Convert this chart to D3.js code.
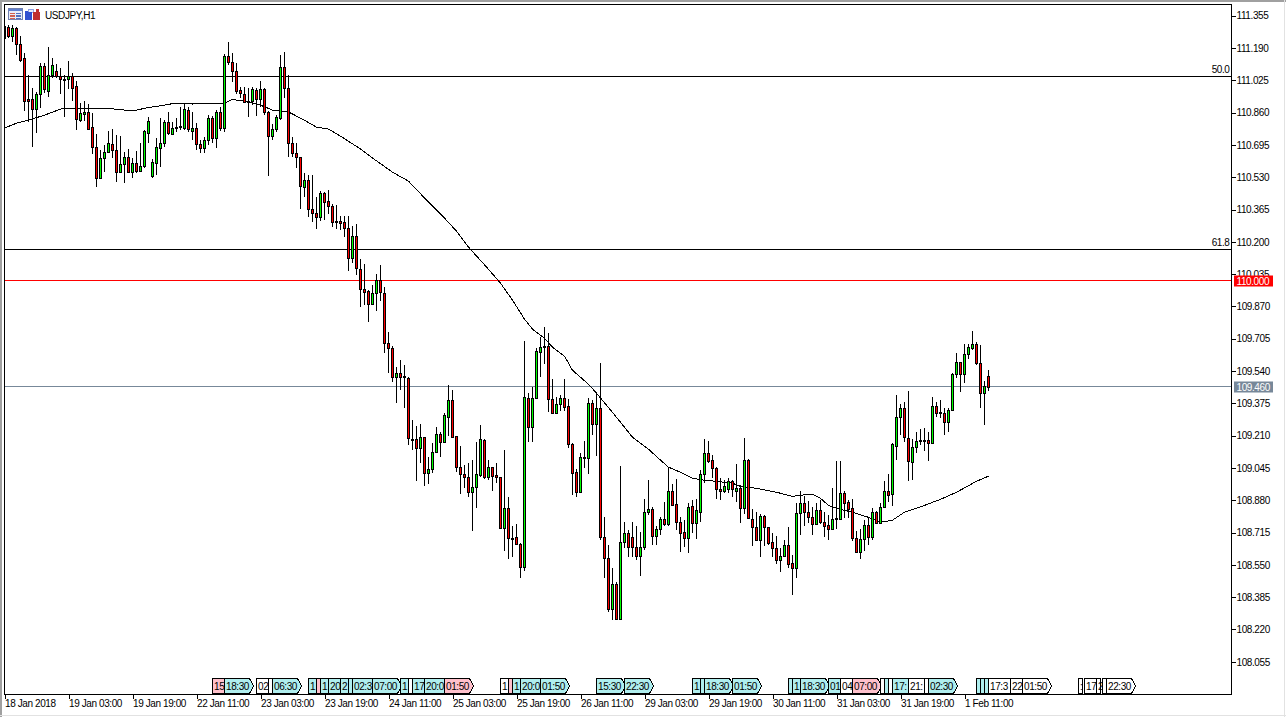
<!DOCTYPE html>
<html><head><meta charset="utf-8">
<script src="https://cdn.jsdelivr.net/npm/d3@7/dist/d3.min.js"></script>
<style>
html,body{margin:0;padding:0;background:#fff;overflow:hidden}
svg{display:block}
text{font-family:"Liberation Sans",Arial,sans-serif;font-size:10px;letter-spacing:-.4px;fill:#000}
</style></head><body><svg id="c" width="1286" height="717"></svg>
<script>
const symbolTitle="USDJPY,H1";
const direction=["R","RGRRRRRGGR","GGRRRGRRGG","RRRGGGRRGG","RGRGGGGGGG","RGGGGRGRRG","GRGRGRRRRR","RGRGRRGGGR","RRRRGRRRGR","RRRRRRGRRR","RGGRRRRGRR","RRRGRGGGRG","GRRRRRGGGR","GRRRGRRRRG","RGGGGRRGGR","RRRGGGRGRR","RGRGGRRRGG","GRGGRGRRRR","GRGGGRRRRG","GRGRGRRRGR","RRRGGRRGGR","RRGRRRGGGR","RRRGGRGRGG","RGGGRRGGRR","RGRRRGGGRG","GGRRGR"].join("").split("");
const high=[111.302,111.307,111.307,111.297,111.251,111.164,111.052,110.985,110.965,111.113,111.113,111.195,111.139,111.108,111.088,111.052,111.123,111.062,111.021,110.909,110.919,110.904,110.858,110.751,110.669,110.694,110.766,110.776,110.745,110.740,110.658,110.674,110.628,110.664,110.704,110.771,110.837,110.623,110.730,110.832,110.822,110.863,110.812,110.832,110.888,110.904,110.888,110.863,110.807,110.720,110.735,110.848,110.842,110.873,110.888,111.159,111.220,111.164,111.113,110.990,110.990,110.985,110.990,110.985,111.021,110.985,110.868,110.802,110.848,111.154,111.169,111.052,110.735,110.704,110.633,110.551,110.541,110.541,110.428,110.459,110.454,110.464,110.393,110.388,110.331,110.331,110.331,110.280,110.290,110.112,110.086,109.953,109.979,110.035,110.081,109.968,109.738,109.667,109.559,109.595,109.570,109.509,109.289,109.258,109.268,109.202,109.100,109.171,109.253,109.228,109.325,109.467,109.442,109.207,109.156,109.059,109.069,109.085,109.176,109.263,109.191,109.085,109.049,109.069,108.998,109.135,108.895,108.747,108.757,108.660,109.692,109.426,109.457,109.656,109.713,109.764,109.733,109.498,109.406,109.416,109.498,109.396,109.171,109.038,109.120,109.181,109.401,109.391,109.426,109.580,108.793,108.650,108.533,108.461,109.054,108.768,108.727,108.768,108.747,108.717,108.885,108.982,108.844,108.747,108.793,108.870,109.049,108.962,108.987,108.793,108.778,108.865,108.880,108.885,109.034,109.191,109.181,109.110,109.049,108.993,108.982,108.993,108.982,109.064,108.956,109.197,109.089,108.834,108.819,108.808,108.803,108.742,108.711,108.696,108.635,108.676,108.742,108.599,108.865,108.926,108.900,108.875,108.844,108.865,108.880,108.819,108.803,108.941,109.079,109.079,108.926,108.880,108.885,108.721,108.732,108.778,108.788,108.839,108.824,108.865,108.977,109.013,109.171,109.416,109.370,109.380,109.437,109.191,109.227,109.243,109.248,109.227,109.406,109.380,109.391,109.350,109.350,109.529,109.631,109.585,109.677,109.677,109.744,109.687,109.672,109.488,109.544];
const low=[111.231,111.241,111.220,111.154,111.118,110.868,110.812,110.684,110.756,110.883,110.960,110.939,111.037,111.037,110.955,110.837,110.980,110.919,110.771,110.812,110.817,110.776,110.648,110.479,110.520,110.556,110.653,110.628,110.505,110.551,110.500,110.556,110.525,110.551,110.556,110.577,110.704,110.525,110.541,110.582,110.684,110.745,110.745,110.760,110.771,110.771,110.760,110.720,110.669,110.653,110.653,110.694,110.704,110.679,110.766,110.760,111.103,111.016,110.955,110.935,110.909,110.837,110.898,110.842,110.888,110.848,110.536,110.720,110.760,110.822,110.935,110.633,110.633,110.577,110.367,110.428,110.326,110.300,110.265,110.305,110.310,110.341,110.275,110.265,110.260,110.224,110.050,110.091,110.030,109.866,109.876,109.789,109.876,109.846,109.897,109.631,109.529,109.483,109.376,109.442,109.350,109.161,109.135,108.977,109.069,108.951,108.962,109.018,109.120,109.100,109.171,109.207,109.197,109.023,108.911,108.941,108.895,108.721,108.839,108.998,108.987,108.982,108.926,108.967,108.737,108.619,108.578,108.588,108.650,108.481,108.517,109.176,109.176,109.396,109.509,109.575,109.329,109.319,109.319,109.335,109.335,109.146,108.905,108.895,108.916,109.044,109.013,109.212,109.105,108.675,108.481,108.307,108.271,108.302,108.271,108.635,108.588,108.588,108.573,108.492,108.624,108.803,108.650,108.650,108.701,108.747,108.747,108.854,108.727,108.614,108.640,108.609,108.711,108.680,108.768,108.967,109.069,108.993,108.885,108.880,108.916,108.916,108.895,108.870,108.762,108.808,108.783,108.645,108.670,108.588,108.645,108.650,108.588,108.553,108.512,108.588,108.533,108.395,108.481,108.701,108.747,108.762,108.701,108.752,108.757,108.691,108.676,108.737,108.732,108.778,108.788,108.788,108.670,108.614,108.578,108.619,108.650,108.676,108.757,108.757,108.839,108.870,108.849,109.085,109.212,109.176,108.977,108.982,109.120,109.161,109.130,109.079,109.171,109.304,109.299,109.212,109.227,109.335,109.503,109.432,109.478,109.600,109.646,109.570,109.350,109.263,109.437];
const bodyHigh=[111.302,111.297,111.292,111.292,111.210,111.134,110.929,110.929,110.950,111.093,111.093,111.052,111.103,111.072,111.042,111.031,111.042,111.042,110.991,110.853,110.863,110.863,110.786,110.684,110.628,110.658,110.704,110.699,110.669,110.597,110.633,110.633,110.602,110.602,110.587,110.766,110.817,110.607,110.684,110.704,110.807,110.807,110.781,110.786,110.791,110.878,110.873,110.781,110.781,110.699,110.720,110.832,110.832,110.863,110.863,111.149,111.149,111.118,111.072,110.975,110.955,110.919,110.980,110.975,110.980,110.980,110.863,110.776,110.837,111.088,111.088,110.985,110.704,110.653,110.633,110.515,110.515,110.367,110.346,110.449,110.449,110.408,110.383,110.305,110.305,110.300,110.270,110.229,110.229,110.061,109.959,109.948,109.938,110.000,110.000,109.938,109.682,109.657,109.529,109.529,109.514,109.504,109.191,109.191,109.202,109.202,109.038,109.125,109.217,109.217,109.314,109.391,109.391,109.207,109.048,109.013,108.998,108.946,109.013,109.191,109.186,109.049,109.049,109.008,108.998,108.839,108.839,108.686,108.691,108.655,109.406,109.401,109.401,109.641,109.662,109.667,109.667,109.396,109.371,109.401,109.401,109.360,109.166,109.023,109.100,109.100,109.376,109.376,109.350,109.350,108.691,108.583,108.451,108.451,108.665,108.711,108.711,108.691,108.640,108.640,108.819,108.834,108.834,108.732,108.783,108.783,108.926,108.926,108.860,108.768,108.717,108.844,108.849,108.829,109.013,109.120,109.120,109.085,109.044,108.936,108.951,108.977,108.977,108.941,108.941,109.085,109.085,108.783,108.742,108.798,108.798,108.742,108.665,108.635,108.594,108.650,108.650,108.558,108.814,108.865,108.865,108.819,108.793,108.829,108.829,108.768,108.752,108.783,108.788,108.916,108.916,108.870,108.839,108.686,108.680,108.752,108.752,108.819,108.819,108.844,108.926,108.926,109.166,109.304,109.350,109.350,109.197,109.151,109.181,109.186,109.186,109.186,109.360,109.360,109.330,109.325,109.340,109.524,109.585,109.585,109.626,109.662,109.677,109.677,109.580,109.463,109.514];
const bodyLow=[111.241,111.251,111.251,111.210,111.128,110.919,110.919,110.878,110.878,110.955,110.980,110.970,111.052,111.042,111.031,111.026,111.031,110.985,110.827,110.822,110.848,110.776,110.684,110.525,110.525,110.628,110.658,110.664,110.556,110.556,110.597,110.556,110.556,110.561,110.561,110.587,110.755,110.536,110.602,110.679,110.704,110.755,110.750,110.781,110.786,110.781,110.776,110.766,110.699,110.679,110.679,110.720,110.730,110.730,110.781,110.781,111.118,111.072,110.970,110.960,110.914,110.914,110.919,110.929,110.929,110.863,110.740,110.740,110.776,110.832,110.985,110.704,110.653,110.633,110.485,110.480,110.367,110.346,110.326,110.326,110.403,110.383,110.300,110.300,110.295,110.270,110.117,110.117,110.066,109.959,109.943,109.882,109.882,109.938,109.943,109.682,109.657,109.509,109.509,109.509,109.509,109.197,109.186,109.146,109.146,109.018,109.018,109.038,109.125,109.176,109.176,109.304,109.202,109.048,109.013,108.998,108.921,108.921,108.946,109.008,108.998,108.998,109.003,108.998,108.737,108.737,108.686,108.680,108.655,108.537,108.537,109.252,109.252,109.401,109.636,109.662,109.396,109.324,109.324,109.371,109.355,109.166,109.018,108.921,108.921,109.095,109.095,109.268,109.268,108.691,108.583,108.323,108.323,108.272,108.272,108.665,108.640,108.640,108.594,108.594,108.640,108.819,108.696,108.696,108.732,108.757,108.757,108.854,108.768,108.711,108.685,108.685,108.762,108.762,108.819,109.013,109.079,109.044,108.936,108.926,108.926,108.936,108.936,108.926,108.839,108.839,108.788,108.742,108.676,108.676,108.742,108.660,108.635,108.573,108.573,108.594,108.553,108.533,108.533,108.814,108.819,108.793,108.757,108.757,108.768,108.747,108.732,108.732,108.783,108.783,108.865,108.834,108.685,108.614,108.614,108.680,108.691,108.691,108.762,108.762,108.844,108.906,108.911,109.156,109.304,109.202,109.079,109.074,109.151,109.181,109.181,109.171,109.171,109.325,109.325,109.279,109.279,109.340,109.524,109.524,109.524,109.626,109.657,109.580,109.427,109.427,109.458];
const maBars=[0,3,6,10,14,16,25,30,33,36,40,42,47,55,57,60,64,67,71,74,78,81,84,89,92,97,101,106,110,113,116,121,124,127,130,132,135,137,140,142,146,148,153,157,161,164,166,169,172,175,178,182,184,188,193,197,199,202,204,206,208,212,216,219,222,225,230,234,238,243,246];
const maValues=[110.781,110.806,110.822,110.847,110.878,110.883,110.883,110.873,110.873,110.886,110.898,110.906,110.904,110.909,110.927,110.919,110.898,110.873,110.863,110.832,110.786,110.776,110.740,110.674,110.628,110.556,110.510,110.403,110.321,110.255,110.173,110.060,109.989,109.902,109.805,109.754,109.708,109.662,109.616,109.544,109.473,109.427,109.304,109.202,109.141,109.085,109.049,109.023,108.992,108.982,108.977,108.967,108.951,108.941,108.921,108.900,108.906,108.911,108.890,108.854,108.839,108.819,108.793,108.768,108.778,108.819,108.854,108.885,108.921,108.977,109.003];
const priceTicks=[111.355,111.190,111.025,110.860,110.695,110.530,110.365,110.200,110.035,109.870,109.705,109.540,109.375,109.210,109.045,108.880,108.715,108.550,108.385,108.220,108.055];
const timeBars=[0,16,32,48,64,80,96,112,128,144,160,176,192,208,224,240];
const timeLabels=["18 Jan 2018","19 Jan 03:00","19 Jan 19:00","22 Jan 11:00","23 Jan 03:00","23 Jan 19:00","24 Jan 11:00","25 Jan 03:00","25 Jan 19:00","26 Jan 11:00","29 Jan 03:00","29 Jan 19:00","30 Jan 11:00","31 Jan 03:00","31 Jan 19:00","1 Feb 11:00"];
const levelPrices=[111.047,110.163];
const levelNames=["50.0","61.8"];
const roundPrice=110.000, lastPrice=109.460;
const flagBar=[52,55,63,66,67,76,78,79,81,84,86,87,92,99,101,102,105,110,124,126,127,129,134,148,155,172,174,175,182,196,197,199,206,209,212,219,220,221,222,226,230,231,243,244,245,246,251.5,254.5,268.5,270,273,274.5,275.5];
const flagSpan=[3,7,3,1,7,2,1,2,3,2,1,5,7,2,1,3,5,7,2,1,2,5,7,7,7,2,1,7,7,1,2,7,3,3,7,1,1,1,4,4,1,7,1,1,1,5.5,3,7,1,3,1,1,7];
const flagText=["15","18:30","02","","06:30","1","","1","20","2","","02:3","07:00","1","","17","20:0","01:50","1","","1","20:0","01:50","15:30","22:30","1","","18:30","01:50","","1","18:30","01","04","07:00","","","","17:","21:","","02:30","","","","17:3","22","01:50",":","17","2","","22:30"];
const flagKind="PCWWCCPCCCCCCCWCCPWPCCCCCCCCCCCCCWPWCWCWWCCCCWWWWWWWW".split("");
const flagArrow=[0,1,0,0,1,0,0,0,0,0,0,0,1,0,0,0,0,1,0,0,0,0,1,1,1,0,0,1,1,0,0,1,0,0,1,0,0,0,0,0,0,1,0,0,0,0,0,1,0,0,0,0,1];

const svg=d3.select("#c");
const x=d3.scaleLinear().domain([0,246]).range([4.5,988.5]);
const y=d3.scaleLinear().domain([111.355,108.055]).range([15.7,661.8]);
const left=4.5,right=1231.5,top_=4.5,bottom=694.5;

svg.append("rect").attr("x",0).attr("y",0).attr("width",1286).attr("height",2).attr("fill","#a0a0a0");
svg.append("rect").attr("x",0).attr("y",0).attr("width",2).attr("height",717).attr("fill","#a0a0a0");
svg.append("rect").attr("x",0).attr("y",715).attr("width",1286).attr("height",1).attr("fill","#e2e2e2");
svg.append("rect").attr("x",1284).attr("y",0).attr("width",1).attr("height",717).attr("fill","#e2e2e2");

svg.append("clipPath").attr("id","plot").append("rect").attr("x",left).attr("y",top_).attr("width",right-left).attr("height",bottom-top_);
const plot=svg.append("g").attr("clip-path","url(#plot)").attr("shape-rendering","crispEdges");

const ya=svg.append("g").attr("transform",`translate(${right},0)`).attr("shape-rendering","crispEdges")
  .call(d3.axisRight(y).tickValues(priceTicks).tickFormat(d3.format(".3f")).tickSize(4).tickPadding(1));
ya.select(".domain").remove();
ya.selectAll("text").attr("fill","#000");
const xa=svg.append("g").attr("transform",`translate(0,${bottom})`).attr("shape-rendering","crispEdges")
  .call(d3.axisBottom(x).tickValues(timeBars).tickFormat((d,i)=>timeLabels[i]).tickSize(4));
xa.select(".domain").remove();
xa.selectAll("text").attr("text-anchor","start").attr("x",0).attr("y",5).attr("fill","#000");

plot.selectAll("line.lvl").data(levelPrices).join("line").attr("class","lvl")
  .attr("x1",left).attr("x2",right).attr("y1",d=>y(d)).attr("y2",d=>y(d)).attr("stroke","#000");
plot.append("line").attr("x1",left).attr("x2",right).attr("y1",y(roundPrice)).attr("y2",y(roundPrice)).attr("stroke","#ff0000");
plot.append("line").attr("x1",left).attr("x2",right).attr("y1",y(lastPrice)).attr("y2",y(lastPrice)).attr("stroke","#778899");
svg.selectAll("text.lvlname").data(levelNames).join("text").attr("class","lvlname")
  .attr("x",1229.5).attr("y",(d,i)=>y(levelPrices[i])-3).attr("text-anchor","end").text(d=>d);

plot.append("path").attr("fill","none").attr("stroke","#000").attr("stroke-width",1)
  .attr("d",d3.line().x(d=>x(d)).y((d,i)=>y(maValues[i]))(maBars));

const bars=d3.range(high.length);
plot.selectAll("line.wick").data(bars).join("line").attr("class","wick")
  .attr("x1",d=>x(d)).attr("x2",d=>x(d)).attr("y1",d=>y(high[d])).attr("y2",d=>y(low[d])).attr("stroke","#000");
plot.selectAll("rect.body").data(bars).join("rect").attr("class","body")
  .attr("x",d=>x(d)-1).attr("width",2)
  .attr("y",d=>y(bodyHigh[d])).attr("height",d=>Math.max(1,y(bodyLow[d])-y(bodyHigh[d])))
  .attr("fill",d=>direction[d]==="G"?"#00ff00":"#ff0000").attr("stroke","#000");

const kindFill={P:"#ffc0cb",C:"#afeeee",W:"#ffffff"};
const flags=svg.append("g").selectAll("g").data(flagBar).join("g");
flags.append("path").attr("shape-rendering","crispEdges").attr("stroke","#000").attr("fill",(d,i)=>kindFill[flagKind[i]])
  .attr("d",(d,i)=>{const l=Math.round(x(d)-.5)+.5,r=Math.round(x(d+flagSpan[i])-.5)+.5;
    return flagArrow[i]?`M${l},678.5H${r-3}L${r+1},686L${r-3},693.5H${l}Z`:`M${l},678.5H${r}V693.5H${l}Z`;});
flags.append("line").attr("shape-rendering","crispEdges").attr("stroke","#000")
  .attr("x1",d=>Math.round(x(d)-.5)+.5).attr("x2",d=>Math.round(x(d)-.5)+.5).attr("y1",693).attr("y2",694.5);
flags.append("text").attr("x",d=>x(d)+1.5).attr("y",690).text((d,i)=>flagText[i]);

[[roundPrice,"#ff0000"],[lastPrice,"#778899"]].forEach(([p,c])=>{
  const yy=Math.round(y(p));
  svg.append("rect").attr("x",1234).attr("y",yy-5.5).attr("width",39).attr("height",11).attr("fill",c);
  svg.append("text").attr("x",1236.5).attr("y",yy+3.5).style("fill","#fff").text(d3.format(".3f")(p));
});

svg.append("rect").attr("x",left).attr("y",top_).attr("width",right-left).attr("height",bottom-top_)
  .attr("fill","none").attr("stroke","#000").attr("shape-rendering","crispEdges");

const ico=svg.append("g").attr("shape-rendering","crispEdges");
ico.append("rect").attr("x",8.5).attr("y",8.5).attr("width",14).attr("height",11).attr("fill","#e8ecf8").attr("stroke","#7080b0");
ico.append("rect").attr("x",9).attr("y",9).attr("width",13).attr("height",2).attr("fill","#6080d0");
[[10,12.5,"#d06050"],[16,12.5,"#5070c0"],[10,15,"#d06050"],[16,15,"#5070c0"],[10,17.5,"#d06050"],[16,17.5,"#5070c0"]].forEach(a=>ico.append("rect").attr("x",a[0]).attr("y",a[1]).attr("width",5).attr("height",1.5).attr("fill",a[2]));
ico.append("rect").attr("x",25).attr("y",11).attr("width",7).attr("height",9).attr("fill","#3050d0");
ico.append("rect").attr("x",28).attr("y",9).attr("width",5).attr("height",3).attr("fill","#e8ecf8").attr("stroke","#3050d0").attr("stroke-width",.5);
ico.append("rect").attr("x",33).attr("y",12).attr("width",7).attr("height",8).attr("fill","#c03030");
ico.append("rect").attr("x",36).attr("y",9).attr("width",3).attr("height",3).attr("fill","#c03030");
svg.append("text").attr("x",45).attr("y",18.5).text(symbolTitle);
</script></body></html>
